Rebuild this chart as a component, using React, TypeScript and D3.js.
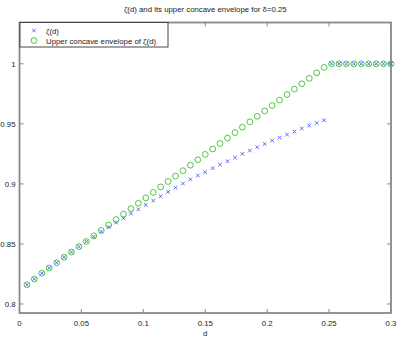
import React, { useRef, useEffect } from 'react';
import * as d3 from 'd3';

// sample points d (step 0.006)
const dValues = [
  0.006, 0.012, 0.018, 0.024, 0.03, 0.036, 0.042, 0.048, 0.054, 0.06,
  0.066, 0.072, 0.078, 0.084, 0.09, 0.096, 0.102, 0.108, 0.114, 0.12,
  0.126, 0.132, 0.138, 0.144, 0.15, 0.156, 0.162, 0.168, 0.174, 0.18,
  0.186, 0.192, 0.198, 0.204, 0.21, 0.216, 0.222, 0.228, 0.234, 0.24,
  0.246, 0.252, 0.258, 0.264, 0.27, 0.276, 0.282, 0.288, 0.294, 0.3,
];

// zeta(d)
const zetaValues = [
  0.8161, 0.8208, 0.8256, 0.83, 0.8344, 0.8389, 0.8433, 0.8478, 0.852, 0.856,
  0.8603, 0.864, 0.8678, 0.8714, 0.8753, 0.8789, 0.8825, 0.8861, 0.8897, 0.8933,
  0.8969, 0.9003, 0.9039, 0.907, 0.9097, 0.9131, 0.9161, 0.9189, 0.9219, 0.925,
  0.9278, 0.9306, 0.9333, 0.9361, 0.9386, 0.9411, 0.9436, 0.9461, 0.9486, 0.9508,
  0.953, 1, 1, 1, 1, 1, 1, 1, 1, 1,
];

// upper concave envelope of zeta(d)
const envelopeValues = [
  0.8161, 0.8208, 0.8256, 0.83, 0.8344, 0.8389, 0.8433, 0.8478, 0.852, 0.8567,
  0.8613, 0.8658, 0.8703, 0.8748, 0.8794, 0.8839, 0.8884, 0.8929, 0.8975, 0.902,
  0.9065, 0.911, 0.9156, 0.9201, 0.9246, 0.9291, 0.9336, 0.9382, 0.9427, 0.9472,
  0.9517, 0.9563, 0.9608, 0.9653, 0.9698, 0.9744, 0.9789, 0.9834, 0.9879, 0.9925,
  0.997, 1, 1, 1, 1, 1, 1, 1, 1, 1,
];

const xTicks = [0, 0.05, 0.1, 0.15, 0.2, 0.25, 0.3];
const yTicks = [0.8, 0.85, 0.9, 0.95, 1];

const W = 400;
const H = 338;

const App = () => {
  const svgRef = useRef<SVGSVGElement>(null);

  useEffect(() => {
    const svg = d3.select(svgRef.current);
    svg.selectAll('*').remove();

    const margin = { top: 22.5, right: 9, bottom: 25, left: 19.5 };
    const font = '"Liberation Sans", Arial, sans-serif';
    const fs = 7.8;
    const axisColor = '#888';
    const blue = '#4a5cff';
    const green = '#3cbf2c';

    const x = d3.scaleLinear().domain([0, 0.3]).range([margin.left, W - margin.right]);
    const y = d3.scaleLinear().domain([0.7925, 1.0344]).range([H - margin.bottom, margin.top]);

    svg.append('rect')
      .attr('width', W).attr('height', H).attr('fill', 'white');

    // title
    svg.append('text')
      .attr('x', (margin.left + W - margin.right) / 2)
      .attr('y', 12)
      .attr('text-anchor', 'middle')
      .attr('font-family', font)
      .attr('font-size', fs)
      .attr('fill', '#222')
      .text('\u03b6(d) and its upper concave envelope for \u03b4=0.25');

    const x0 = margin.left, x1 = W - margin.right;
    const y0 = H - margin.bottom, y1 = margin.top;

    // ticks (inward, both sides)
    const tickLen = 4;
    xTicks.forEach(t => {
      svg.append('line').attr('x1', x(t)).attr('x2', x(t)).attr('y1', y0).attr('y2', y0 - tickLen)
        .attr('stroke', axisColor);
      svg.append('line').attr('x1', x(t)).attr('x2', x(t)).attr('y1', y1).attr('y2', y1 + tickLen)
        .attr('stroke', axisColor);
      svg.append('text')
        .attr('x', x(t)).attr('y', y0 + 13)
        .attr('text-anchor', 'middle')
        .attr('font-family', font).attr('font-size', fs).attr('fill', '#222')
        .text(String(t));
    });
    yTicks.forEach(t => {
      svg.append('line').attr('x1', x0).attr('x2', x0 + tickLen).attr('y1', y(t)).attr('y2', y(t))
        .attr('stroke', axisColor);
      svg.append('line').attr('x1', x1).attr('x2', x1 - tickLen).attr('y1', y(t)).attr('y2', y(t))
        .attr('stroke', axisColor);
      svg.append('text')
        .attr('x', x0 - 4).attr('y', y(t) + 3)
        .attr('text-anchor', 'end')
        .attr('font-family', font).attr('font-size', fs).attr('fill', '#222')
        .text(String(t));
    });

    // frame
    svg.append('rect')
      .attr('x', x0).attr('y', y1)
      .attr('width', x1 - x0).attr('height', y0 - y1)
      .attr('fill', 'none')
      .attr('stroke', axisColor)
      .attr('stroke-width', 1.8);

    // x label
    svg.append('text')
      .attr('x', (x0 + x1) / 2).attr('y', y0 + 23)
      .attr('text-anchor', 'middle')
      .attr('font-family', font).attr('font-size', fs).attr('fill', '#222')
      .text('d');

    const crossPath = (cx: number, cy: number, s: number) =>
      `M${cx - s},${cy - s}L${cx + s},${cy + s}M${cx - s},${cy + s}L${cx + s},${cy - s}`;

    // envelope circles
    svg.append('g').selectAll('circle')
      .data(dValues.map((d, i) => ({ d, v: envelopeValues[i] })))
      .enter()
      .append('circle')
      .attr('cx', p => x(p.d))
      .attr('cy', p => y(p.v))
      .attr('r', 2.9)
      .attr('fill', 'none')
      .attr('stroke', green)
      .attr('stroke-width', 0.9);

    // zeta crosses
    svg.append('g').selectAll('path')
      .data(dValues.map((d, i) => ({ d, v: zetaValues[i] })))
      .enter()
      .append('path')
      .attr('d', p => crossPath(x(p.d), y(p.v), 1.8))
      .attr('stroke', blue)
      .attr('stroke-width', 0.9)
      .attr('fill', 'none');

    // legend
    const lg = svg.append('g');
    lg.append('rect')
      .attr('x', 20).attr('y', 22.5)
      .attr('width', 148).attr('height', 24.5)
      .attr('fill', 'white')
      .attr('stroke', '#333')
      .attr('stroke-width', 0.9);
    lg.append('path')
      .attr('d', crossPath(34, 30.5, 1.8))
      .attr('stroke', blue).attr('stroke-width', 0.9);
    lg.append('circle')
      .attr('cx', 34).attr('cy', 40.5).attr('r', 2.9)
      .attr('fill', 'none').attr('stroke', green).attr('stroke-width', 0.9);
    lg.append('text')
      .attr('x', 46).attr('y', 33.5)
      .attr('font-family', font).attr('font-size', fs).attr('fill', '#222')
      .text('\u03b6(d)');
    lg.append('text')
      .attr('x', 46).attr('y', 43.5)
      .attr('font-family', font).attr('font-size', fs).attr('fill', '#222')
      .text('Upper concave envelope of \u03b6(d)');
  }, []);

  return (
    <div style={{ position: 'absolute', left: 0, top: 0, width: W, height: H }}>
      <svg ref={svgRef} width={W} height={H} style={{ display: 'block' }}></svg>
    </div>
  );
};

export default App;
